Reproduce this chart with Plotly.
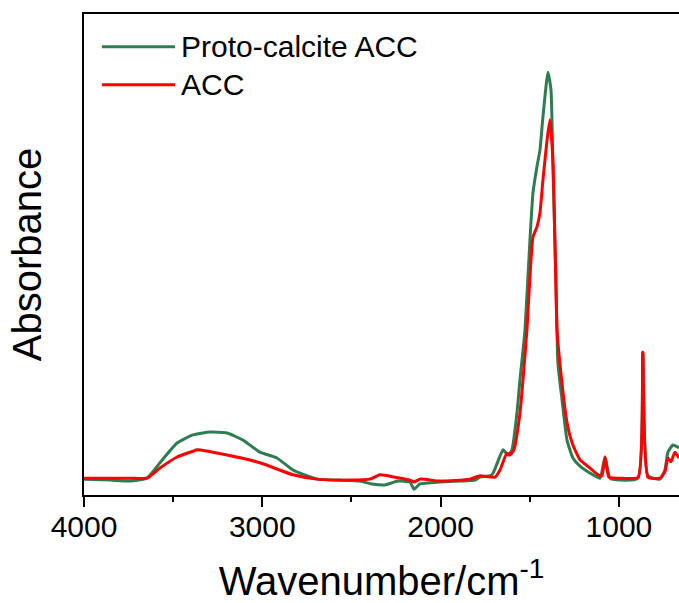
import plotly.graph_objects as go

# FTIR spectra, absorbance in arbitrary units
wn_proto = [4000, 3854, 3742, 3647, 3574, 3478, 3389, 3293, 3198, 3108, 3013, 2918, 2828, 2693,
            2564, 2452, 2385, 2312, 2239, 2172, 2149, 2116, 2004, 1891, 1807, 1779, 1712, 1650,
            1622, 1600, 1572, 1555, 1527, 1499, 1482, 1460, 1443, 1426, 1398, 1381, 1370, 1353,
            1342, 1319, 1291, 1258, 1218, 1146, 1106, 1078, 1050, 994, 893, 866, 837, 770,
            742, 725, 697, 663]
abs_proto = [.033, .031, .029, .035, .067, .108, .125, .131, .129, .114, .089, .077, .052, .033,
             .031, .029, .023, .021, .029, .027, .012, .023, .027, .029, .031, .037, .042, .094,
             .083, .094, .170, .239, .343, .530, .628, .682, .717, .786, .879, .842, .682, .447,
             .274, .198, .114, .077, .060, .042, .035, .079, .035, .031, .035, .297, .040, .033,
             .052, .089, .104, .098]

wn_acc = [4000, 3742, 3647, 3574, 3478, 3389, 3366, 3198, 3013, 2828, 2693, 2508, 2396, 2340,
          2256, 2172, 2149, 2116, 2004, 1835, 1779, 1695, 1667, 1628, 1611, 1589, 1555, 1538,
          1516, 1482, 1460, 1443, 1426, 1403, 1387, 1370, 1359, 1347, 1331, 1291, 1258, 1218,
          1162, 1117, 1095, 1078, 1056, 994, 893, 866, 837, 770, 742, 725, 708, 686, 663]
abs_acc = [.035, .035, .035, .056, .079, .091, .094, .083, .067, .042, .033, .031, .033, .042,
           .037, .031, .027, .033, .029, .033, .040, .037, .052, .087, .083, .094, .170, .239,
           .343, .536, .557, .586, .655, .738, .780, .696, .530, .343, .274, .150, .104, .073,
           .056, .042, .040, .079, .037, .035, .037, .297, .037, .035, .048, .077, .069, .089, .077]

green = "#2e7d50"
red = "#ff0000"
font = "Liberation Sans, Arial, sans-serif"

fig = go.Figure()
fig.add_trace(go.Scatter(x=wn_proto, y=abs_proto, mode="lines", name="Proto-calcite ACC",
                         line=dict(color=green, width=3, shape="spline", smoothing=0.5)))
fig.add_trace(go.Scatter(x=wn_acc, y=abs_acc, mode="lines", name="ACC",
                         line=dict(color=red, width=3, shape="spline", smoothing=0.5)))

# legend drawn by hand so the swatch lines are long like the original
for i, (name, col) in enumerate([("Proto-calcite ACC", green), ("ACC", red)]):
    yy = 0.932 - i * 0.079
    fig.add_shape(type="line", xref="paper", yref="paper", x0=0.030, x1=0.153, y0=yy, y1=yy,
                  line=dict(color=col, width=3))
    fig.add_annotation(xref="paper", yref="paper", x=0.160, y=yy, text=name, showarrow=False,
                       xanchor="left", yanchor="middle", font=dict(size=30, color="black", family=font))

fig.update_layout(
    width=679, height=603,
    margin=dict(l=84, r=0, t=14, b=108),
    plot_bgcolor="white", paper_bgcolor="white",
    showlegend=False,
    font=dict(family=font, color="black"),
)
fig.update_xaxes(range=[4000, 663], tickvals=[4000, 3000, 2000, 1000],
                 ticks="outside", ticklen=10, tickwidth=1.5, tickcolor="black",
                 minor=dict(tickvals=[3500, 2500, 1500], ticks="outside", ticklen=5, tickwidth=1.5, tickcolor="black"),
                 showline=True, linecolor="black", linewidth=1.5, mirror=True,
                 showgrid=False, zeroline=False, tickfont=dict(size=30), automargin=False,
                 ticklabelstandoff=-6,
                 title=dict(text="Wavenumber/cm<sup>-1</sup>", font=dict(size=40), standoff=33))
fig.update_yaxes(range=[0, 1], showticklabels=False, ticks="", automargin=False,
                 showline=True, linecolor="black", linewidth=1.5,
                 showgrid=False, zeroline=False,
                 title=dict(text="Absorbance", font=dict(size=40), standoff=28))

fig.write_html("out.html", config={"displayModeBar": False},
               post_script="document.body.style.margin='0';")
